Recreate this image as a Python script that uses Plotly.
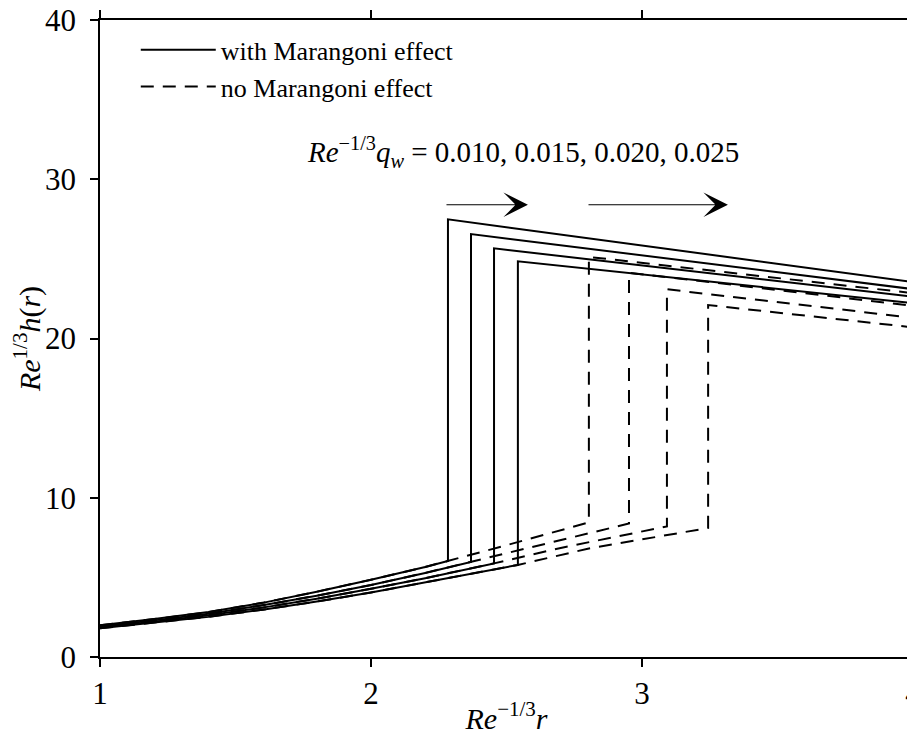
import plotly.graph_objects as go

# Re^{-1/3} q_w values
q_w = ["0.010", "0.015", "0.020", "0.025"]

# upstream (pre-jump) profiles, shared by both models
x_up_1 = [1.0, 1.2, 1.4, 1.6, 1.8, 2.0, 2.2, 2.284]
h_up_1 = [2.0, 2.38, 2.82, 3.4, 4.1, 4.85, 5.65, 6.03]
x_up_2 = [1.0, 1.2, 1.4, 1.6, 1.8, 2.0, 2.2, 2.369]
h_up_2 = [1.93, 2.3, 2.72, 3.25, 3.85, 4.52, 5.28, 5.97]
x_up_3 = [1.0, 1.2, 1.4, 1.6, 1.8, 2.0, 2.2, 2.454]
h_up_3 = [1.87, 2.22, 2.62, 3.1, 3.66, 4.28, 4.95, 5.88]
x_up_4 = [1.0, 1.2, 1.4, 1.6, 1.8, 2.0, 2.2, 2.4, 2.542]
h_up_4 = [1.8, 2.14, 2.52, 2.97, 3.48, 4.05, 4.68, 5.3, 5.78]

# with Marangoni effect: post-jump profile (jump location, height after jump, height at r=4)
x_after_mar = [[2.284, 4.0], [2.369, 4.0], [2.454, 4.0], [2.542, 4.0]]
h_after_mar = [[27.48, 23.55], [26.56, 23.1], [25.66, 22.62], [24.85, 22.22]]

# no Marangoni effect: continuation of supercritical film, then jump
x_cont_no = [[2.5, 2.804], [2.6, 2.952], [2.7, 3.092], [2.8, 3.244]]
h_cont_no = [[7.02, 8.45], [6.9, 8.38], [6.85, 8.2], [6.8, 8.1]]
x_after_no = [[2.804, 4.0], [2.952, 4.0], [3.092, 4.0], [3.244, 4.0]]
h_after_no = [[25.12, 22.85], [24.13, 22.05], [23.09, 21.3], [22.1, 20.7]]

x_up = [x_up_1, x_up_2, x_up_3, x_up_4]
h_up = [h_up_1, h_up_2, h_up_3, h_up_4]

FONT = "Liberation Serif, Times New Roman, serif"
fig = go.Figure()

# dashed first (underneath)
for i in range(4):
    xs = x_up[i] + x_cont_no[i] + x_after_no[i]
    hs = h_up[i] + h_cont_no[i] + h_after_no[i]
    fig.add_trace(go.Scatter(
        x=xs, y=hs, mode="lines",
        line=dict(color="black", width=2, dash="13px,9px"),
        name="no Marangoni effect", legendgroup="no", showlegend=(i == 0),
        legendrank=2,
    ))

for i in range(4):
    xs = x_up[i] + x_after_mar[i]
    hs = h_up[i] + h_after_mar[i]
    fig.add_trace(go.Scatter(
        x=xs, y=hs, mode="lines",
        line=dict(color="black", width=2),
        name="with Marangoni effect", legendgroup="mar", showlegend=(i == 0),
        legendrank=1,
    ))

# arrows
arrow_y = 28.4
for x0, x1 in [(2.273, 2.579), (2.797, 3.317)]:
    fig.add_annotation(x=x1, y=arrow_y, ax=x0, ay=arrow_y, xref="x", yref="y",
                       axref="x", ayref="y", showarrow=True, text="",
                       arrowhead=3, arrowsize=3.4, arrowwidth=1.2, arrowcolor="black")

fig.add_annotation(
    x=2.56, y=31.7, xref="x", yref="y", showarrow=False,
    text="<i>Re</i><sup>−1/3</sup><i>q<sub>w</sub></i> = " + ", ".join(q_w),
    font=dict(family=FONT, size=29, color="black"),
)

axis_common = dict(
    showline=True, linecolor="black", linewidth=1.5, mirror="ticks",
    ticks="outside", ticklen=8, tickwidth=1.5, tickcolor="black",
    showgrid=False, zeroline=False, automargin=False,
    ticklabeloverflow="allow",
    tickfont=dict(family=FONT, size=31, color="black"),
)

# the page body has an 8px margin: figure size/margins compensate for it
fig.update_layout(
    width=907, height=727,
    margin=dict(l=92, r=2, t=12, b=78),
    paper_bgcolor="white", plot_bgcolor="white",
    font=dict(family=FONT, color="black"),
    xaxis=dict(range=[1, 4], dtick=1, tick0=1,
               title=dict(text="<i>Re</i><sup>−1/3</sup><i>r</i>",
                          font=dict(family=FONT, size=30), standoff=0),
               **axis_common),
    yaxis=dict(range=[0, 40], dtick=10, tick0=0, ticklabelstandoff=8,
               title=dict(text="<i>Re</i><sup>1/3</sup><i>h</i>(<i>r</i>)",
                          font=dict(family=FONT, size=30), standoff=10),
               **axis_common),
    legend=dict(x=0.044, y=0.99, xanchor="left", yanchor="top",
                bgcolor="rgba(0,0,0,0)", font=dict(family=FONT, size=26),
                itemwidth=75, tracegroupgap=0, traceorder="normal"),
    showlegend=True,
)

fig.write_html("out.html")
